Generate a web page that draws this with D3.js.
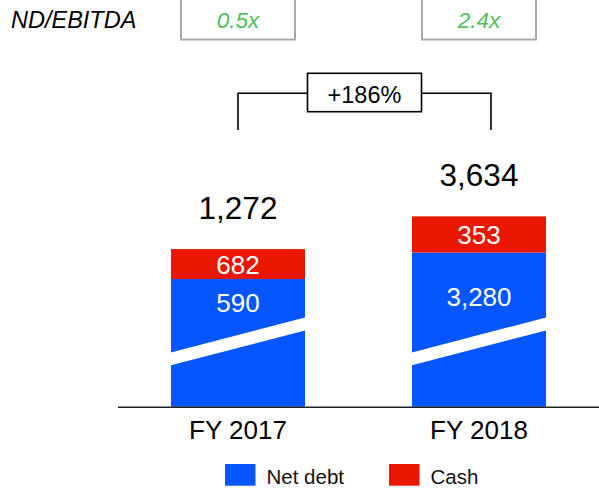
<!DOCTYPE html>
<html>
<head>
<meta charset="utf-8">
<script src="https://cdn.jsdelivr.net/npm/d3@7"></script>
<style>
  html, body { margin: 0; padding: 0; background: #fff; }
  svg { display: block; font-family: "Liberation Sans", Arial, sans-serif; }
</style>
</head>
<body>
<svg id="chart" width="599" height="488"></svg>
<script>
// ---- data ----
const years = ["FY 2017", "FY 2018"];
const netDebt = [590, 3280];
const cash = [682, 353];
const totals = [1272, 3634];
const totalLabels = ["1,272", "3,634"];
const netDebtLabels = ["590", "3,280"];
const cashLabels = ["682", "353"];
const ndEbitda = ["0.5x", "2.4x"];
const growthLabel = "+186%";
const seriesNames = ["Net debt", "Cash"];

// ---- style ----
const W = 599, H = 488;
const blue = "#0656FF", red = "#E91600", green = "#4FBF58";
const baseline = 406.7;
const breakPx = 140;          // bars are drawn with a broken axis
const netShare = 0.81;        // display share of net debt segment

const svg = d3.select("#chart");

const x = d3.scaleBand().domain(years).range([117.5, 599.5])
  .paddingInner(0.444).paddingOuter(0.222);
const bw = x.bandwidth();

// broken axis: bottom portion compressed under the white break stripe
const y = d3.scaleLinear().domain([0, 4000])
  .range([baseline - breakPx, baseline - breakPx - 55.4]);

const rows = years.map((yr, i) => {
  const top = y(totals[i]);
  const boundary = baseline - netShare * (baseline - top);
  return { yr, i, top, boundary };
});

// bars
const g = svg.append("g");
g.selectAll("rect.net").data(rows).join("rect")
  .attr("x", d => x(d.yr)).attr("width", bw)
  .attr("y", d => d.boundary).attr("height", d => baseline - d.boundary)
  .attr("fill", blue);
g.selectAll("rect.cash").data(rows).join("rect")
  .attr("x", d => x(d.yr)).attr("width", bw)
  .attr("y", d => d.top).attr("height", d => d.boundary - d.top)
  .attr("fill", red);

// break stripes
g.selectAll("polygon.brk").data(rows).join("polygon")
  .attr("fill", "#fff")
  .attr("points", d => {
    const x0 = x(d.yr) - 1, x1 = x(d.yr) + bw + 1;
    return [[x0, baseline - 54], [x1, baseline - 89.5], [x1, baseline - 76.5], [x0, baseline - 41.2]]
      .map(p => p.join(",")).join(" ");
  });

// segment labels
const breakTopMid = baseline - 71.3;
g.selectAll("text.net").data(rows).join("text")
  .attr("x", d => x(d.yr) + bw / 2)
  .attr("y", d => d.boundary + 0.75 * (breakTopMid - d.boundary) - 9)
  .attr("text-anchor", "middle").attr("fill", "#fff").attr("font-size", 26)
  .text(d => netDebtLabels[d.i]);
g.selectAll("text.cash").data(rows).join("text")
  .attr("x", d => x(d.yr) + bw / 2)
  .attr("y", d => (d.top + d.boundary) / 2 + 9.5)
  .attr("text-anchor", "middle").attr("fill", "#fff").attr("font-size", 26)
  .text(d => cashLabels[d.i]);
g.selectAll("text.total").data(rows).join("text")
  .attr("x", d => x(d.yr) + bw / 2)
  .attr("y", d => d.top - 30.2)
  .attr("text-anchor", "middle").attr("fill", "#000").attr("font-size", 31.5)
  .text(d => totalLabels[d.i]);

// x axis
const axis = svg.append("g").attr("transform", `translate(0,${baseline})`)
  .call(d3.axisBottom(x).tickSize(0).tickPadding(14));
axis.select(".domain").attr("stroke", "#222").attr("stroke-width", 1.6);
axis.selectAll("text").attr("font-size", 26).attr("fill", "#000")
  .attr("font-family", "Liberation Sans, Arial, sans-serif");

// ND/EBITDA row
svg.append("text").attr("x", 11).attr("y", 28.3)
  .attr("font-size", 23.5).attr("font-style", "italic").attr("fill", "#000")
  .text("ND/EBITDA");
const boxW = 114;
svg.selectAll("rect.nd").data(years).join("rect")
  .attr("x", d => x(d) + bw / 2 - boxW / 2).attr("y", -1)
  .attr("width", boxW).attr("height", 40.5)
  .attr("fill", "#fff").attr("stroke", "#A8A8A8").attr("stroke-width", 2);
svg.selectAll("text.nd").data(years).join("text")
  .attr("x", d => x(d) + bw / 2).attr("y", 28)
  .attr("text-anchor", "middle").attr("font-size", 22.5).attr("font-style", "italic")
  .attr("fill", green)
  .text((d, i) => ndEbitda[i]);

// growth bracket
const bx0 = x(years[0]) + bw / 2, bx1 = x(years[1]) + bw / 2 + 12;
const bTop = 93.3, bBot = 130;
svg.append("path")
  .attr("d", `M${bx0},${bBot}V${bTop}H${bx1}V${bBot}`)
  .attr("fill", "none").attr("stroke", "#000").attr("stroke-width", 1.6);
const gcx = (bx0 + bx1) / 2;
svg.append("rect").attr("x", gcx - 57).attr("y", 73.3).attr("width", 114).attr("height", 38.4)
  .attr("fill", "#fff").attr("stroke", "#000").attr("stroke-width", 1.6);
svg.append("text").attr("x", gcx).attr("y", 102.5)
  .attr("text-anchor", "middle").attr("font-size", 23.5).attr("fill", "#000")
  .text(growthLabel);

// legend
const legX = [225, 389], legColors = [blue, red];
const leg = svg.selectAll("g.leg").data(seriesNames).join("g")
  .attr("transform", (d, i) => `translate(${legX[i]},464)`);
leg.append("rect").attr("width", 30.5).attr("height", 21.7).attr("fill", (d, i) => legColors[i]);
leg.append("text").attr("x", 41.5).attr("y", 19.5).attr("font-size", 20.5).attr("fill", "#111")
  .text(d => d);
</script>
</body>
</html>
